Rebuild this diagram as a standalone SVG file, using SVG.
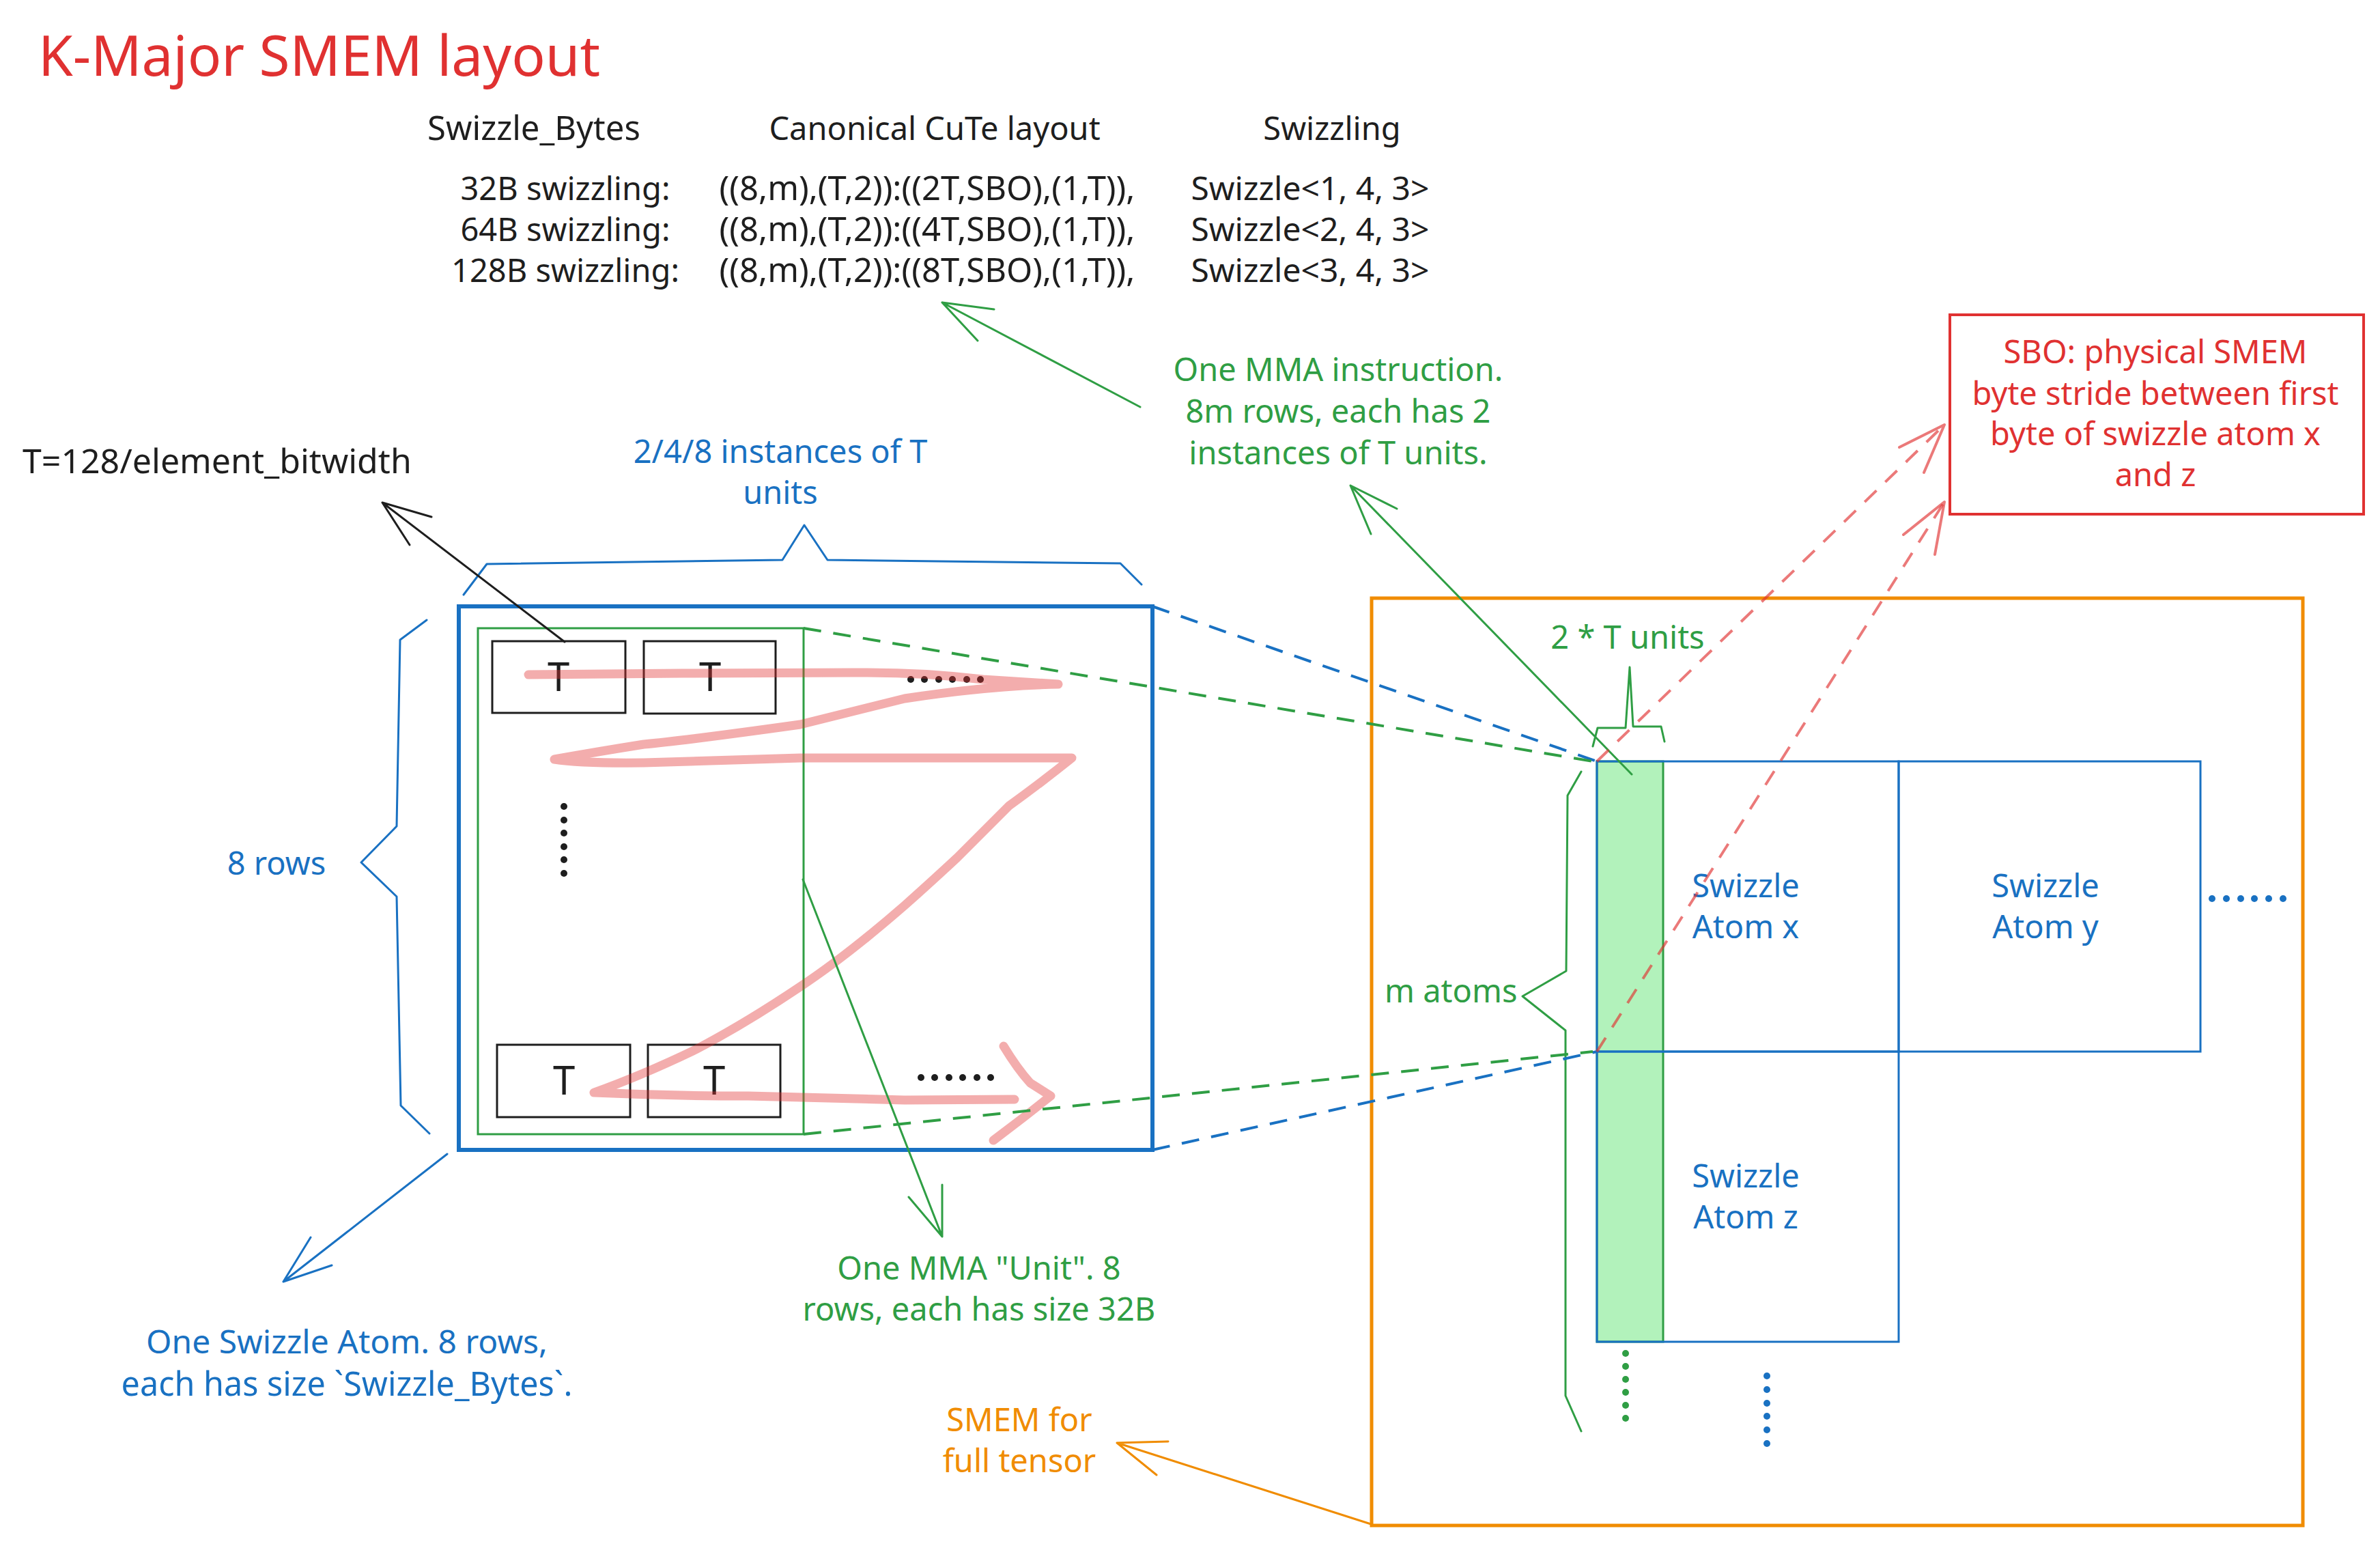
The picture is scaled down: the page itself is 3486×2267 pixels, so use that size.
<svg xmlns="http://www.w3.org/2000/svg" width="3486" height="2267" viewBox="0 0 3486 2267">
<style>
text{font-family:"Noto Sans","Open Sans",sans-serif;font-size:47px}
.c{text-anchor:middle}
.k{fill:#1e1e1e}
.r{fill:#e03131}
.b{fill:#1971c2}
.g{fill:#2f9e44}
.o{fill:#f08c00}
.ln{fill:none;stroke-linecap:round;stroke-linejoin:round}
.sb{stroke:#1971c2}
.sg{stroke:#2f9e44}
.sk{stroke:#1e1e1e}
.so{stroke:#f08c00}
.dash{stroke-width:4;stroke-dasharray:26 18;stroke-linecap:butt}
.cute{font-size:49px}
.swz{font-size:48px}
</style>
<rect x="0" y="0" width="3486" height="2267" fill="#ffffff"/>

<g id="title"><text x="56" y="111" class="r" style="font-size:82px">K-Major SMEM layout</text></g>

<g id="table">
<text x="782" y="205" class="k c" style="font-size:49px">Swizzle_Bytes</text>
<text x="1369" y="205" class="k c">Canonical CuTe layout</text>
<text x="1951" y="205" class="k c">Swizzling</text>
<text x="828" y="293" class="k c">32B swizzling:</text>
<text x="828" y="353" class="k c">64B swizzling:</text>
<text x="828" y="413" class="k c">128B swizzling:</text>
<text x="1358" y="293" class="k c cute">((8,m),(T,2)):((2T,SBO),(1,T)),</text>
<text x="1358" y="353" class="k c cute">((8,m),(T,2)):((4T,SBO),(1,T)),</text>
<text x="1358" y="413" class="k c cute">((8,m),(T,2)):((8T,SBO),(1,T)),</text>
<text x="1919" y="293" class="k c swz">Swizzle&lt;1, 4, 3&gt;</text>
<text x="1919" y="353" class="k c swz">Swizzle&lt;2, 4, 3&gt;</text>
<text x="1919" y="413" class="k c swz">Swizzle&lt;3, 4, 3&gt;</text>
</g>

<g id="t-def"><text x="33" y="693" class="k" style="font-size:50px">T=128/element_bitwidth</text></g>

<g id="instances-label"><text x="1143" y="678" class="b c">2/4/8 instances of T</text><text x="1143" y="738" class="b c">units</text></g>
<g id="rows-label"><text x="405" y="1281" class="b c">8 rows</text></g>

<g id="swizzle-atom-box">
<rect x="672" y="888" width="1016" height="796" fill="none" stroke="#1971c2" stroke-width="6"/>
</g>
<g id="mma-unit-box">
<rect x="700" y="920" width="477" height="741" fill="none" stroke="#2f9e44" stroke-width="3"/>
</g>
<g id="t-boxes">
<rect x="721" y="939" width="195" height="105" fill="none" stroke="#1e1e1e" stroke-width="3"/>
<rect x="943" y="939" width="193" height="106" fill="none" stroke="#1e1e1e" stroke-width="3"/>
<rect x="728" y="1530" width="195" height="106" fill="none" stroke="#1e1e1e" stroke-width="3"/>
<rect x="949" y="1530" width="194" height="106" fill="none" stroke="#1e1e1e" stroke-width="3"/>
<text x="818" y="1012" class="k c" style="font-size:58px">T</text>
<text x="1040" y="1012" class="k c" style="font-size:58px">T</text>
<text x="826" y="1603" class="k c" style="font-size:58px">T</text>
<text x="1046" y="1603" class="k c" style="font-size:58px">T</text>
</g>
<g id="black-dots" fill="#1e1e1e">
<circle cx="1334" cy="995" r="5"/><circle cx="1354" cy="995" r="5"/><circle cx="1375" cy="995" r="5"/><circle cx="1395" cy="995" r="5"/><circle cx="1416" cy="995" r="5"/><circle cx="1436" cy="995" r="5"/>
<circle cx="1349" cy="1578" r="5"/><circle cx="1369" cy="1578" r="5"/><circle cx="1390" cy="1578" r="5"/><circle cx="1410" cy="1578" r="5"/><circle cx="1431" cy="1578" r="5"/><circle cx="1451" cy="1578" r="5"/>
<circle cx="826" cy="1181" r="5"/><circle cx="826" cy="1201" r="5"/><circle cx="826" cy="1220" r="5"/><circle cx="826" cy="1240" r="5"/><circle cx="826" cy="1259" r="5"/><circle cx="826" cy="1279" r="5"/>
</g>
<g id="zigzag">
<path d="M774,988 L1000,986 L1250,985 Q1350,984 1440,995 L1550,1002 M1550,1002 Q1450,1004 1325,1023 L1172,1061 Q1000,1085 943,1090 Q880,1100 812,1112 Q850,1118 943,1117 L1172,1110 L1478,1110 L1570,1110 Q1520,1150 1478,1180 L1402,1256 Q1360,1295 1325,1326 Q1240,1400 1172,1445 Q1090,1500 1019,1537 Q940,1575 870,1600 Q980,1605 1096,1605 L1325,1611 L1486,1610 M1470,1532 Q1490,1565 1509,1586 L1539,1605 L1501,1635 L1455,1670" fill="none" stroke="#e03131" stroke-opacity="0.4" stroke-width="13" stroke-linecap="round" stroke-linejoin="round"/>
</g>

<g id="atom-caption"><text x="508" y="1982" class="b c" style="font-size:48px">One Swizzle Atom. 8 rows,</text><text x="508" y="2044" class="b c" style="font-size:48.5px">each has size `Swizzle_Bytes`.</text></g>
<g id="unit-caption"><text x="1434" y="1874" class="g c">One MMA "Unit". 8</text><text x="1434" y="1934" class="g c">rows, each has size 32B</text></g>
<g id="smem-caption"><text x="1493" y="2096" class="o c">SMEM for</text><text x="1493" y="2156" class="o c">full tensor</text></g>
<g id="instruction-caption"><text x="1960" y="558" class="g c">One MMA instruction.</text><text x="1960" y="619" class="g c">8m rows, each has 2</text><text x="1960" y="680" class="g c">instances of T units.</text></g>

<g id="sbo-note">
<rect x="2856" y="461" width="606" height="292" fill="none" stroke="#e03131" stroke-width="4"/>
<text x="3157" y="532" class="r c">SBO: physical SMEM</text>
<text x="3157" y="593" class="r c">byte stride between first</text>
<text x="3157" y="652" class="r c">byte of swizzle atom x</text>
<text x="3157" y="712" class="r c">and z</text>
</g>

<g id="smem-tensor">
<rect x="2009" y="876" width="1364" height="1358" fill="none" stroke="#f08c00" stroke-width="5"/>
</g>
<g id="mma-column">
<rect x="2339" y="1115" width="97" height="850" fill="#b2f2bb" stroke="#2f9e44" stroke-width="3"/>
</g>
<g id="atom-x">
<rect x="2339" y="1115" width="442" height="425" fill="none" stroke="#1971c2" stroke-width="3"/>
<text x="2557" y="1314" class="b c">Swizzle</text><text x="2557" y="1374" class="b c">Atom x</text>
</g>
<g id="atom-y">
<rect x="2781" y="1115" width="442" height="425" fill="none" stroke="#1971c2" stroke-width="3"/>
<text x="2996" y="1314" class="b c">Swizzle</text><text x="2996" y="1374" class="b c">Atom y</text>
</g>
<g id="atom-z">
<rect x="2339" y="1540" width="442" height="425" fill="none" stroke="#1971c2" stroke-width="3"/>
<text x="2557" y="1739" class="b c">Swizzle</text><text x="2557" y="1799" class="b c">Atom z</text>
</g>
<g id="units-label"><text x="2384" y="950" class="g c">2 * T units</text></g>
<g id="m-atoms-label"><text x="2028" y="1468" class="g">m atoms</text></g>
<g id="more-dots">
<g fill="#1971c2">
<circle cx="3240" cy="1316" r="5"/><circle cx="3261" cy="1316" r="5"/><circle cx="3282" cy="1316" r="5"/><circle cx="3302" cy="1316" r="5"/><circle cx="3323" cy="1316" r="5"/><circle cx="3344" cy="1316" r="5"/>
<circle cx="2588" cy="2015" r="5"/><circle cx="2588" cy="2035" r="5"/><circle cx="2588" cy="2055" r="5"/><circle cx="2588" cy="2074" r="5"/><circle cx="2588" cy="2094" r="5"/><circle cx="2588" cy="2114" r="5"/>
</g>
<g fill="#2f9e44">
<circle cx="2381" cy="1982" r="5"/><circle cx="2381" cy="2001" r="5"/><circle cx="2381" cy="2020" r="5"/><circle cx="2381" cy="2039" r="5"/><circle cx="2381" cy="2058" r="5"/><circle cx="2381" cy="2077" r="5"/>
</g>
</g>

<g id="connectors">
<polyline class="ln sb" stroke-width="3" points="625,908 586,937 581,1210 529,1263 581,1313 587,1619 629,1660"/>
<polyline class="ln sb" stroke-width="3" points="679,871 713,826 1146,820 1178,769 1212,820 1641,825 1672,856"/>
<polyline class="ln sg" stroke-width="3" points="2333,1093 2340,1066 2381,1066 2387,977 2392,1064 2433,1064 2438,1086"/>
<polyline class="ln sg" stroke-width="3" points="2316,1130 2296,1165 2294,1422 2230,1459 2293,1509 2293,2044 2316,2096"/>

<line x1="1688" y1="888" x2="2339" y2="1115" class="sb dash"/>
<line x1="1688" y1="1684" x2="2339" y2="1540" class="sb dash"/>
<line x1="1177" y1="920" x2="2333" y2="1115" class="sg dash"/>
<line x1="1177" y1="1661" x2="2333" y2="1540" class="sg dash"/>

<path class="ln sk" stroke-width="3" d="M827,940 L560,736 M632,757 L560,736 L600,798"/>
<path class="ln sb" stroke-width="3" d="M655,1690 L415,1877 M455,1812 L415,1877 L486,1853"/>
<path class="ln sg" stroke-width="3" d="M1176,1288 L1380,1811 M1331,1753 L1380,1811 L1380,1735"/>
<path class="ln sg" stroke-width="3" d="M1670,596 L1380,443 M1456,453 L1380,443 L1432,499"/>
<path class="ln sg" stroke-width="3" d="M2390,1134 L1978,711 M2046,745 L1978,711 L2008,782"/>
<path class="ln so" stroke-width="3" d="M2008,2232 L1636,2113 M1711,2111 L1636,2113 L1694,2160"/>
<g stroke="#e03131" stroke-opacity="0.65" fill="none">
<line x1="2339" y1="1115" x2="2848" y2="622" stroke-width="4" stroke-dasharray="24 18"/>
<path d="M2782,655 L2848,622 L2818,692" stroke-width="4" stroke-linecap="round" stroke-linejoin="round"/>
<line x1="2339" y1="1540" x2="2848" y2="735" stroke-width="4" stroke-dasharray="24 18"/>
<path d="M2788,783 L2848,735 L2834,812" stroke-width="4" stroke-linecap="round" stroke-linejoin="round"/>
</g>
</g>
</svg>
